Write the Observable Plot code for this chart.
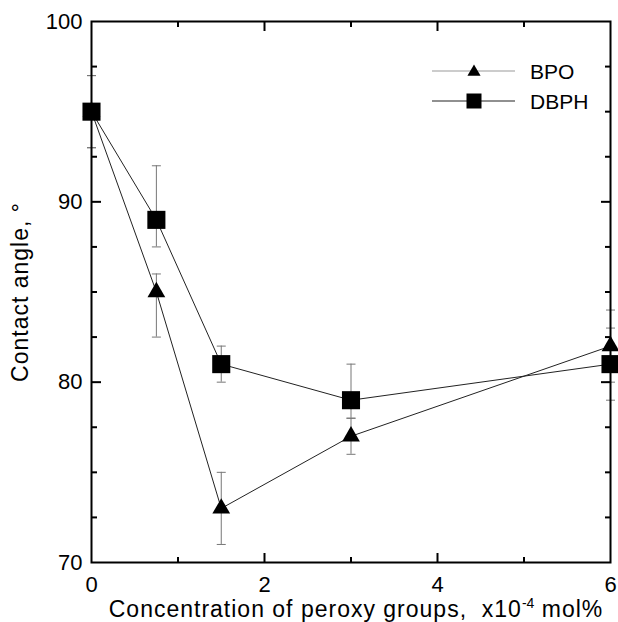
<!DOCTYPE html>
<html><head><meta charset="utf-8">
<script src="https://cdn.jsdelivr.net/npm/d3@7"></script>
<script src="https://cdn.jsdelivr.net/npm/@observablehq/plot@0.6"></script>
<style>
html,body{margin:0;padding:0;background:#fff;}
#wrap{position:relative;width:618px;height:622px;overflow:hidden;}
#legend{position:absolute;left:0;top:0;pointer-events:none;}
svg text{font-family:"Liberation Sans",Arial,Helvetica,sans-serif;}
</style></head><body><div id="wrap"></div>
<script>
// ---- data ----
const conc = [0, 0.75, 1.5, 3, 6];
const bpoAngle = [95, 85, 73, 77, 82];
const bpoLow = [93, 82.5, 71, 76, 80];
const bpoHigh = [97, 86, 75, 78, 84];
const dbphAngle = [95, 89, 81, 79, 81];
const dbphLow = [93, 87.5, 80, 78, 79];
const dbphHigh = [97, 92, 82, 81, 83];
const seriesNames = ["BPO", "DBPH"];
const xTickLabels = [0, 2, 4, 6];
const xMajorTicks = [2, 4];
const xMinorTicks = [1, 3, 5];
const yTickLabels = [70, 80, 90, 100];
const yMajorTicks = [80, 90];
const yMinorTicks = [72.5, 75, 77.5, 82.5, 85, 87.5, 92.5, 95, 97.5];
const xTitleMain = "Concentration of peroxy groups,  x10";
const xTitleSup = "-4";
const xTitleTail = " mol%";
const yTitle = "Contact angle, \u00B0";

const series = [
  {name: seriesNames[0], y: bpoAngle, lo: bpoLow, hi: bpoHigh},
  {name: seriesNames[1], y: dbphAngle, lo: dbphLow, hi: dbphHigh}
];
const rows = series.flatMap(s => conc.map((x, i) => ({series: s.name, x, y: s.y[i], lo: s.lo[i], hi: s.hi[i]})));
const bpo = rows.filter(d => d.series === seriesNames[0]);
const dbph = rows.filter(d => d.series === seriesNames[1]);

const capSymbol = {draw(ctx, size) { const w = Math.sqrt(size / Math.PI); ctx.moveTo(-w, 0); ctx.lineTo(w, 0); }};
const fullTitle = xTitleMain + xTitleSup + xTitleTail;

const plot = Plot.plot({
  width: 618, height: 622,
  marginLeft: 91, marginRight: 8, marginTop: 21, marginBottom: 60,
  style: {fontSize: "22px", fontFamily: '"Liberation Sans", Arial, sans-serif', color: "black", background: "white"},
  x: {domain: [0, 6]},
  y: {domain: [70, 100]},
  marks: [
    // error bars
    Plot.ruleX(rows, {x: "x", y1: "lo", y2: "hi", stroke: "#777", strokeWidth: 1}),
    Plot.dot(rows, {x: "x", y: "lo", symbol: capSymbol, r: 4.5, stroke: "#777", strokeWidth: 1, fill: "none"}),
    Plot.dot(rows, {x: "x", y: "hi", symbol: capSymbol, r: 4.5, stroke: "#777", strokeWidth: 1, fill: "none"}),
    // lines
    Plot.line(bpo, {x: "x", y: "y", stroke: "#222", strokeWidth: 1}),
    Plot.line(dbph, {x: "x", y: "y", stroke: "#222", strokeWidth: 1}),
    // frame
    Plot.frame({stroke: "black", strokeWidth: 2}),
    // inward ticks
    Plot.axisX(xMajorTicks, {anchor: "bottom", tickSize: -9, strokeWidth: 2, fill: "none", label: null}),
    Plot.axisX(xMinorTicks, {anchor: "bottom", tickSize: -5, strokeWidth: 2, fill: "none", label: null}),
    Plot.axisX(xMajorTicks, {anchor: "top", tickSize: -9, strokeWidth: 2, fill: "none", label: null}),
    Plot.axisX(xMinorTicks, {anchor: "top", tickSize: -5, strokeWidth: 2, fill: "none", label: null}),
    Plot.axisY(yMajorTicks, {anchor: "left", tickSize: -10, strokeWidth: 2, fill: "none", label: null}),
    Plot.axisY(yMinorTicks, {anchor: "left", tickSize: -6, strokeWidth: 2, fill: "none", label: null}),
    Plot.axisY(yMajorTicks, {anchor: "right", tickSize: -10, strokeWidth: 2, fill: "none", label: null}),
    Plot.axisY(yMinorTicks, {anchor: "right", tickSize: -6, strokeWidth: 2, fill: "none", label: null}),
    // tick labels
    Plot.axisX(xTickLabels, {anchor: "bottom", tickSize: 0, tickPadding: 14, label: null, fill: "black"}),
    Plot.axisY(yTickLabels, {anchor: "left", tickSize: 0, tickPadding: 9, label: null, fill: "black"}),
    // markers
    Plot.dot(bpo, {x: "x", y: "y", symbol: "triangle", r: 6.6, fill: "black", stroke: "none"}),
    Plot.dot(dbph, {x: "x", y: "y", symbol: "square", r: 10.2, fill: "black", stroke: "none"}),
    // axis titles
    Plot.text([fullTitle], {frameAnchor: "bottom", lineAnchor: "middle", textAnchor: "middle", dy: 47.5, dx: 5, text: d => d, fontSize: 23}),
    Plot.text([yTitle], {frameAnchor: "left", lineAnchor: "middle", textAnchor: "middle", dx: -71, rotate: -90, text: d => d, fontSize: 23})
  ]
});

const wrap = document.getElementById("wrap");
wrap.appendChild(plot);

// letter spacing for titles and superscript in x title
const ns = "http://www.w3.org/2000/svg";
plot.querySelectorAll("text").forEach(t => {
  if (t.textContent === yTitle) t.setAttribute("letter-spacing", "1");
  if (t.textContent === fullTitle) {
    t.textContent = "";
    t.setAttribute("style", "white-space:pre");
    t.setAttribute("letter-spacing", "1");
    const t1 = document.createElementNS(ns, "tspan"); t1.textContent = xTitleMain; t.appendChild(t1);
    const t2 = document.createElementNS(ns, "tspan"); t2.textContent = xTitleSup; t2.setAttribute("dy", "-9"); t2.setAttribute("font-size", "14"); t2.setAttribute("letter-spacing", "0"); t.appendChild(t2);
    const t3 = document.createElementNS(ns, "tspan"); t3.textContent = xTitleTail; t3.setAttribute("dy", "9"); t.appendChild(t3);
  }
});

// legend
const lg = d3.select(wrap).append("svg").attr("id", "legend").attr("width", 618).attr("height", 622);
const legendItems = [
  {name: seriesNames[0], line: "#999", sym: d3.symbolTriangle, size: 75, y: 71},
  {name: seriesNames[1], line: "#222", sym: d3.symbolSquare, size: 225, y: 101}
];
legendItems.forEach(it => {
  lg.append("line").attr("x1", 432).attr("x2", 515).attr("y1", it.y).attr("y2", it.y).attr("stroke", it.line).attr("stroke-width", 1.2);
  lg.append("path").attr("d", d3.symbol(it.sym, it.size)()).attr("transform", `translate(474,${it.y + (it.sym === d3.symbolTriangle ? 1 : 0)})`).attr("fill", "black");
  lg.append("text").attr("x", 530).attr("y", it.y + 7.5).attr("font-size", 21).attr("fill", "black").text(it.name);
});
</script></body></html>
